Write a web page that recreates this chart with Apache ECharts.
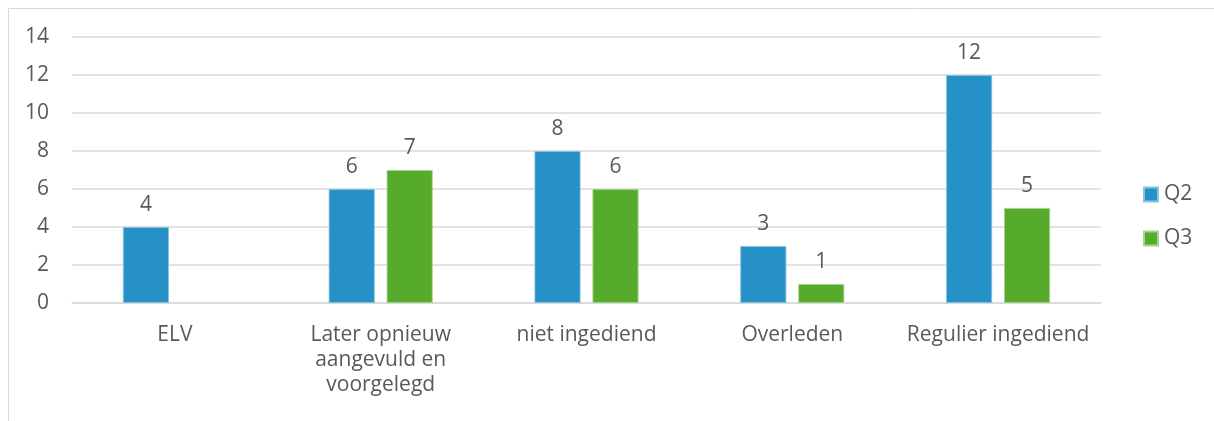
<!DOCTYPE html>
<html>
<head>
<meta charset="utf-8">
<script src="https://cdn.jsdelivr.net/npm/echarts@6/dist/echarts.min.js"></script>
<style>
  html, body { margin: 0; padding: 0; background: #fff; }
  #chart { width: 1214px; height: 421px; }
</style>
</head>
<body>
<div id="chart"></div>
<script>
// Categories and quarterly counts
const categories = ['ELV', 'Later opnieuw\naangevuld en\nvoorgelegd', 'niet ingediend', 'Overleden', 'Regulier ingediend'];
const q2Values = [4, 6, 8, 3, 12];
const q3Values = [null, 7, 6, 1, 5];
const yTicks = { min: 0, max: 14, interval: 2 };

const textColor = '#595959';
const fontFamily = '"Open Sans", "Noto Sans", sans-serif';
const fontSize = 21;

const chart = echarts.init(document.getElementById('chart'));

const labelStyle = {
  show: true,
  position: 'top',
  distance: 11,
  color: textColor,
  fontSize: fontSize,
  fontFamily: fontFamily
};

chart.setOption({
  animation: false,
  textStyle: { fontFamily: fontFamily },
  graphic: [{
    type: 'rect',
    shape: { x: 8.5, y: 8.5, width: 1300, height: 500 },
    style: { fill: 'none', stroke: '#d9d9d9', lineWidth: 1 },
    silent: true
  }],
  grid: { left: 72, right: 113, top: 37, bottom: 118 },
  legend: {
    orient: 'vertical',
    left: 1138,
    top: 179,
    itemWidth: 14,
    itemHeight: 14,
    itemGap: 23,
    icon: 'rect',
    textStyle: { color: textColor, fontSize: fontSize, fontFamily: fontFamily, padding: [0, 0, 0, 1] },
    data: ['Q2', 'Q3']
  },
  xAxis: {
    type: 'category',
    data: categories,
    axisLine: { show: true, lineStyle: { color: '#d9d9d9', width: 1.5 } },
    axisTick: { show: false },
    axisLabel: {
      color: textColor,
      fontSize: fontSize,
      fontFamily: fontFamily,
      lineHeight: 25,
      margin: 20,
      interval: 0
    }
  },
  yAxis: {
    type: 'value',
    min: yTicks.min,
    max: yTicks.max,
    interval: yTicks.interval,
    axisLine: { show: false },
    axisTick: { show: false },
    splitLine: { lineStyle: { color: '#d9d9d9', width: 1.5 } },
    axisLabel: { color: textColor, fontSize: fontSize, fontFamily: fontFamily, margin: 23 }
  },
  series: [
    {
      name: 'Q2',
      type: 'bar',
      data: q2Values,
      barWidth: 46,
      barGap: '26%',
      itemStyle: { color: '#2591c7', borderColor: '#8cc2e2', borderWidth: 0.8 },
      label: labelStyle
    },
    {
      name: 'Q3',
      type: 'bar',
      data: q3Values,
      barWidth: 46,
      itemStyle: { color: '#57ab2c', borderColor: '#a6d48e', borderWidth: 0.8 },
      label: labelStyle
    }
  ]
});
</script>
</body>
</html>
